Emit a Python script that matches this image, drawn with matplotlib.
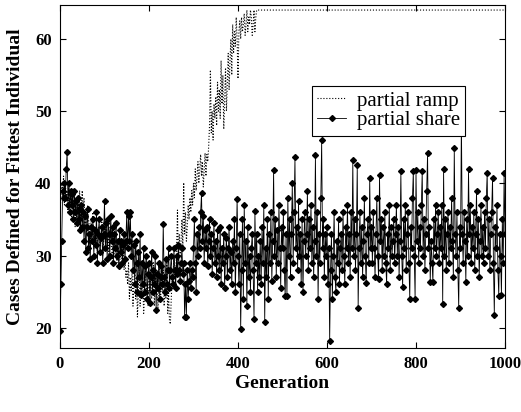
import numpy as np
import matplotlib

matplotlib.use("Agg")
import matplotlib.pyplot as plt

# partial share, every 2nd generation 0..1000
share_gen = np.arange(0, 1001, 2)
share_val = [
    19.5, 26, 32, 39, 38, 40, 38, 42, 44.4, 37, 40, 36, 39, 37, 38.5, 35, 39, 36, 37.5, 34.5, 38, 35, 36.5, 33.5, 37,
    34, 36, 32, 35.5, 30.5, 34, 36.5, 31, 33, 29.5, 34, 32, 35, 30, 33.5, 31.5, 36, 29, 33, 35, 30.5, 32.5, 34, 29, 33,
    37.6, 31, 34.5, 29.5, 35, 33, 30, 35.5, 32, 34, 29, 33, 31, 34.5, 30, 32, 28.5, 33.5, 30.5, 32, 29, 31.5, 33, 29.5, 32,
    36, 31, 35.5, 32, 36, 30, 33, 28, 31.5, 26, 32, 29, 25, 30.5, 27, 33, 24.5, 29, 26, 31, 25, 28.5, 30, 24, 27.5,
    29, 23.5, 27, 30.5, 25, 28, 26, 30, 22.5, 27.5, 25.5, 29, 24, 27, 28.5, 26, 34.4, 27, 25, 29.5, 26, 28, 31, 25.5, 28,
    30, 27, 26, 31, 28, 25.5, 30, 27.5, 31.5, 28, 26.5, 29, 31, 27.5, 29, 21.5, 26, 21.5, 28, 24, 26.5, 29, 25.5, 28, 27,
    31, 35, 29, 25, 33, 30, 34, 31, 36, 38.6, 32, 35.5, 29, 33.5, 31, 34, 28.5, 32, 35, 30, 33, 27.5, 31, 34.5, 29,
    32, 27, 33.5, 30, 28, 34, 26, 31, 29, 33, 25.5, 30, 32.5, 27, 31, 34, 28, 30.5, 26, 32, 29, 35, 25, 31, 37.9,
    30, 26, 33, 19.8, 28, 35, 24, 37, 29, 32, 23, 34, 27, 30, 25, 31, 33, 28, 21.2, 36.2, 29, 33, 25, 30, 27,
    32, 26, 34, 29, 37, 20.8, 31, 27, 35, 24, 33, 29, 36, 26.5, 32, 41.8, 30, 35, 27, 33.5, 29, 37, 31, 25.5, 34,
    31, 36, 28, 24.4, 33, 24.4, 38, 30, 35, 27, 33, 40, 29, 36, 43.6, 31, 34, 28, 37.5, 30, 33, 26, 35, 25, 32,
    36, 30, 33, 39, 28, 35, 31, 37, 29, 34, 27, 32, 43.9, 30, 36, 24, 33, 29, 38, 46, 31, 35, 27, 33, 30,
    34, 26, 31, 18.2, 28, 33, 24, 30, 36, 27, 24.9, 32, 29, 35, 26, 31, 33, 28, 36, 30, 26, 34, 31, 37, 29,
    33, 27, 36, 31, 43.3, 30, 35, 28, 33, 42.5, 22.8, 31, 36, 29, 34, 27, 32, 38, 30, 26.2, 33, 35, 29, 40.8, 31,
    34, 29, 36, 31, 27, 33, 38, 30, 26.7, 41.2, 32, 35, 28, 34, 30, 36, 29, 26, 33, 31, 37, 28, 34, 30, 32,
    35, 29, 33, 37, 30, 34, 27, 32, 41.7, 30, 25.6, 35, 31, 37, 28, 33, 36, 29, 24, 34, 31, 38, 41.7, 30, 24,
    41.8, 32, 36, 29, 34, 31, 37, 41.7, 30, 35, 28, 33, 39, 44.2, 31, 34, 26.3, 32, 29, 26.3, 35, 31, 37, 30, 33,
    36, 29, 34, 31, 37, 23.3, 42, 30, 35, 28, 33, 36, 29, 34, 31, 38, 32, 27, 44.9, 33, 30, 36, 28, 22.8, 34,
    31, 49, 33, 29, 36, 32, 26.4, 35, 30, 42, 33, 37, 29, 34, 31, 36, 28, 33, 39, 30, 35, 27, 32, 37, 30,
    34, 29, 36, 31, 38, 41.5, 30, 35, 28, 33, 36, 40.8, 29, 21.8, 34, 31, 37, 28, 24.4, 33, 30, 24.5, 35, 29, 41.4,
    33,
]

# partial ramp, every 2nd generation 0..444, flat at 64 afterwards
ramp_gen = list(np.arange(0, 445, 2)) + [1000]
ramp_val = [
    36, 38, 40, 39, 41, 37, 40, 38, 39, 36, 40, 37, 38, 35, 39, 36, 38, 34, 37, 35, 38, 36, 39, 35, 37,
    39, 36, 38, 34, 36, 33, 37, 35, 34, 32, 35, 33, 36, 31, 34, 32, 33, 30, 34, 32, 31, 33, 35, 30, 32,
    34, 32, 35, 31, 33, 30, 34, 32, 31, 29, 33, 31, 30, 32, 29, 31, 30, 28, 32, 30, 29, 31, 28, 30, 27,
    28, 26, 29, 24, 27, 25, 28, 23, 26, 29, 24, 27, 21.5, 25, 28, 23, 26, 24, 27, 22, 25, 28, 24, 26, 23,
    27, 25, 28, 24, 26, 29, 23, 27, 25, 28, 22.5, 26, 29, 24, 27, 25, 28, 23, 26, 24, 29, 22, 25, 21, 20.5,
    24, 27, 26, 30, 28, 27, 31, 36.3, 29, 33, 30, 32, 35, 31, 40.1, 33, 36, 32, 34, 37, 35, 38, 36, 39, 37,
    40, 38, 42, 39, 41, 43, 40, 42, 44, 41, 43, 39.5, 42, 44.2, 41, 44, 43, 45, 48, 55.7, 47, 50, 46, 51, 49,
    52, 48, 54, 50, 53, 49, 57, 51, 55, 47.5, 52, 56, 50, 54, 58, 53, 57, 60, 55, 62, 58, 61, 59, 63, 60,
    54.5, 61, 62.5, 60, 63, 61, 62, 63.5, 60.5, 62, 64, 61, 63, 62, 64, 63, 60.5, 62, 64, 61, 63, 64, 64,
    64,
]

plt.rcParams["font.family"] = ["Liberation Serif", "DejaVu Serif"]

fig = plt.figure(figsize=(5.21, 4.12), dpi=100)
ax = fig.add_axes([60 / 521, 1 - 348 / 412, 445 / 521, 343 / 412])

ax.plot(ramp_gen, ramp_val, color="black", linestyle=":", linewidth=0.8,
        label="partial ramp")
ax.plot(share_gen, share_val, color="black", linewidth=0.6, marker="D",
        markersize=3, label="partial share")

ax.set_xlim(0, 1000)
ax.set_ylim(17.2, 64.7)
ax.set_xticks([0, 200, 400, 600, 800, 1000])
ax.set_yticks([20, 30, 40, 50, 60])
ax.tick_params(direction="in", top=True, right=True, length=4, width=0.8,
               labelsize=12, pad=6)
for lab in ax.get_xticklabels() + ax.get_yticklabels():
    lab.set_fontweight("bold")
for s in ax.spines.values():
    s.set_linewidth(0.8)

ax.set_xlabel("Generation", fontsize=14, fontweight="bold", labelpad=2)
ax.set_ylabel("Cases Defined for Fittest Individual", fontsize=14,
              fontweight="bold", labelpad=8)

leg = ax.legend(loc="upper left", bbox_to_anchor=(312 / 521, 1 - 86 / 412),
                bbox_transform=fig.transFigure, borderaxespad=0,
                fancybox=False, framealpha=1, edgecolor="black",
                fontsize=15, handlelength=1.4, borderpad=0.25,
                labelspacing=0.0, handletextpad=0.5)
leg.get_frame().set_linewidth(0.8)

fig.savefig("out.png", dpi=100, facecolor="white")
